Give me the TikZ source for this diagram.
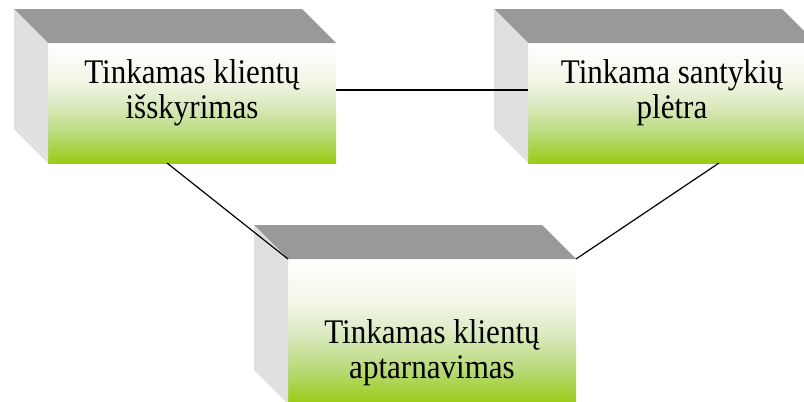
\documentclass[tikz,border=0pt]{standalone}
\usepackage{fontspec}
\usetikzlibrary{calc}
\newfontfamily\boxfont[FakeStretch=0.9]{Liberation Serif}

\definecolor{topgray}{HTML}{999999}
\definecolor{sidegray}{HTML}{E0E0E0}
\definecolor{gA}{HTML}{9BCB14}
\definecolor{gB}{HTML}{BADA7C}
\definecolor{gC}{HTML}{DCEBC4}
\definecolor{gD}{HTML}{F2F7E8}

% white-to-green front face (0bp = bottom; the path spans 25bp..75bp)
\pgfdeclareverticalshading{frontfill}{100bp}{%
  color(0bp)=(gA); color(25bp)=(gA); color(37.5bp)=(gB);
  color(50bp)=(gC); color(60bp)=(gD); color(75bp)=(white); color(100bp)=(white)}

\begin{document}
\begin{tikzpicture}[x=1pt,y=-1pt,
  front/.style={shade, shading=frontfill, draw=none, inner sep=0pt, outer sep=0pt,
                minimum width=288pt, anchor=north west},
  topside/.style={fill=topgray},
  leftside/.style={fill=sidegray},
  boxtext/.style={font=\boxfont\fontsize{34.5}{35}\selectfont, align=center,
                  anchor=north, inner sep=0pt},
  link/.style={line width=1.2pt, black}]

\useasboundingbox (0,0) rectangle (804,402);
\begin{scope}
\clip (0,0) rectangle (804,402);

% front faces
\node[front, minimum height=120pt] (b1) at (48,43) {};
\node[front, minimum height=120pt] (b2) at (528,43) {};
\node[front, minimum height=145pt] (b3) at (288,259) {};

% top and left faces of each block
\foreach \b in {b1,b2,b3}{
  \fill[topside] ($(\b.north west)+(-34,-34)$) -- ($(\b.north east)+(-34,-34)$)
     -- (\b.north east) -- (\b.north west) -- cycle;
  \fill[leftside] ($(\b.north west)+(-34,-34)$) -- (\b.north west)
     -- (\b.south west) -- ($(\b.south west)+(-34,-34)$) -- cycle;
}

% connectors
\draw[link] ([yshift=13pt]b1.east) -- ([yshift=13pt]b2.west);
\draw[link] ([xshift=119pt]b1.south west) -- (b3.north west);
\draw[link] ([xshift=191pt]b2.south west) -- (b3.north east);

% labels
\node[boxtext] (t1) at (192,59.5) {Tinkamas klientų\\išskyrimas};
\node[boxtext] (t2) at (672,59.5) {Tinkama santykių\\plėtra};
\node[boxtext] (t3) at (432,319.5) {Tinkamas klientų\\aptarnavimas};
\end{scope}
\end{tikzpicture}
\end{document}
